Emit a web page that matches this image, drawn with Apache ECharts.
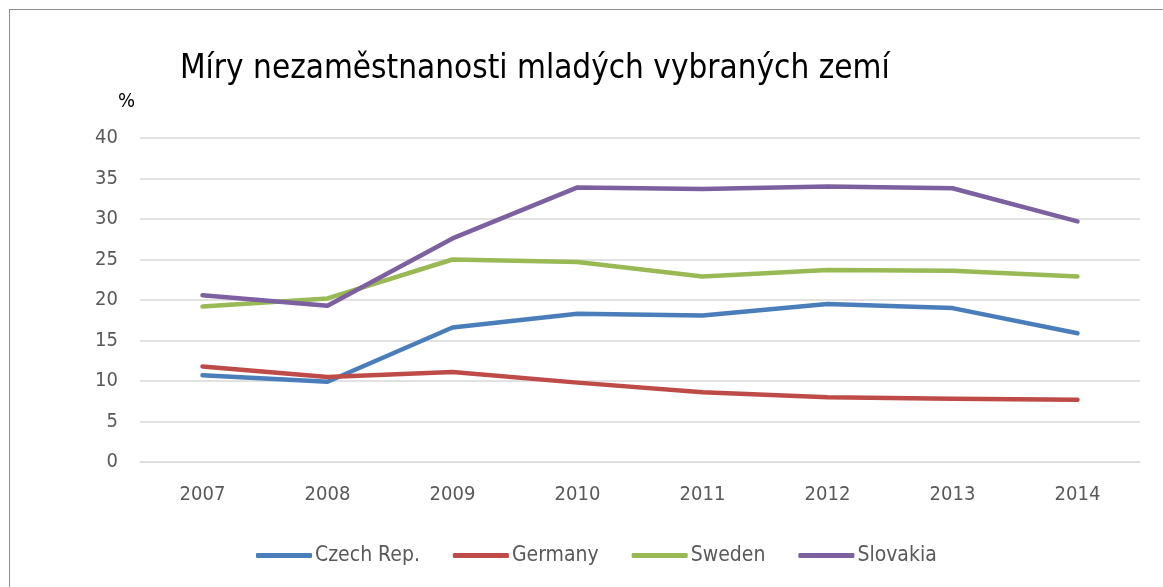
<!DOCTYPE html>
<html>
<head>
<meta charset="utf-8">
<script src="https://cdn.jsdelivr.net/npm/echarts@6/dist/echarts.min.js"></script>
<style>
  html, body { margin: 0; padding: 0; background: #fff; }
  #frame { position: absolute; left: 9px; top: 9px; width: 1170px; height: 600px; border: 1px solid #8c8c8c; }
  #chartWrap { position: absolute; left: 0; top: 0; width: 1163px; height: 587px; }
</style>
</head>
<body>
<div id="frame"></div>
<div id="chartWrap"></div>
<script>
  // years on the x axis
  const years = ['2007', '2008', '2009', '2010', '2011', '2012', '2013', '2014'];
  // youth unemployment, %
  const czech = [10.7, 9.9, 16.6, 18.3, 18.1, 19.5, 19.0, 15.9];
  const germany = [11.8, 10.5, 11.1, 9.8, 8.6, 8.0, 7.8, 7.7];
  const sweden = [19.2, 20.2, 25.0, 24.7, 22.9, 23.7, 23.6, 22.9];
  const slovakia = [20.6, 19.3, 27.6, 33.9, 33.7, 34.0, 33.8, 29.7];

  const font = '"Liberation Sans Narrow", "DejaVu Sans Condensed", sans-serif';

  const line = (name, data, color) => ({
    name: name,
    type: 'line',
    data: data,
    symbol: 'none',
    lineStyle: { width: 4.5, color: color, cap: 'round', join: 'round' },
    itemStyle: { color: color }
  });

  const chart = echarts.init(document.getElementById('chartWrap'));
  chart.setOption({
    animation: false,
    title: {
      text: 'Míry nezaměstnanosti mladých vybraných zemí',
      left: 175, top: 48,
      textStyle: { fontFamily: font, fontSize: 33, fontWeight: 'normal', color: '#000' }
    },
    grid: { left: 140, right: 23, top: 138, bottom: 125 },
    legend: {
      bottom: 16, left: 251,
      itemWidth: 56, itemHeight: 5, itemGap: 33,
      icon: 'roundRect',
      textStyle: { fontFamily: font, fontSize: 21, color: '#595959', padding: [0, 0, 0, -2] }
    },
    xAxis: {
      type: 'category',
      data: years,
      axisLine: { lineStyle: { color: '#d9d9d9', width: 1 } },
      axisTick: { show: false },
      axisLabel: { fontFamily: font, fontSize: 20, color: '#595959', margin: 23 }
    },
    yAxis: {
      type: 'value',
      min: 0, max: 40, interval: 5,
      name: '%',
      nameLocation: 'end',
      nameGap: 26,
      nameTextStyle: { fontFamily: font, fontSize: 20, color: '#000', align: 'right', padding: [0, 5, 0, 0] },
      axisLine: { show: false },
      axisTick: { show: false },
      axisLabel: { fontFamily: font, fontSize: 20, color: '#595959', margin: 22 },
      splitLine: { lineStyle: { color: '#d9d9d9', width: 1.5 } }
    },
    series: [
      line('Czech Rep.', czech, '#4a7ebb'),
      line('Germany', germany, '#be4b48'),
      line('Sweden', sweden, '#98b954'),
      line('Slovakia', slovakia, '#7d60a0')
    ]
  });
</script>
</body>
</html>
